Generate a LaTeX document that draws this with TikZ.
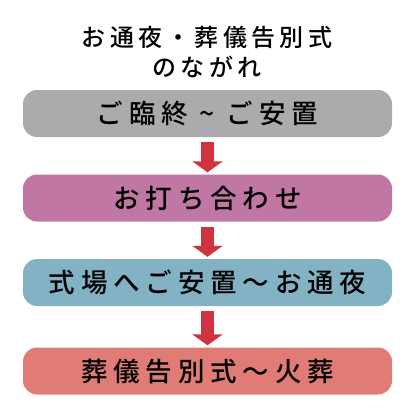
\documentclass[tikz,border=0pt]{standalone}
\usepackage{fontspec}
\newfontfamily\jp[LetterSpace=22, UprightFont={* Medium}]{Noto Sans CJK JP}
\newfontfamily\jptitle[LetterSpace=18, UprightFont={* Medium}]{Noto Sans CJK JP}
\usetikzlibrary{arrows.meta}
\definecolor{stepgray}{RGB}{171,171,171}
\definecolor{steppink}{RGB}{193,119,163}
\definecolor{stepblue}{RGB}{130,178,196}
\definecolor{stepsalmon}{RGB}{224,124,117}
\definecolor{flowred}{RGB}{207,51,64}
\begin{document}
\begin{tikzpicture}[
  x=1pt, y=-1pt,
  box/.style={rounded corners=14pt, minimum width=369pt, minimum height=47pt, inner sep=0pt, font=\jp\fontsize{26.5}{30}\selectfont, text=black},
  flow/.style={draw=flowred, line width=13pt, -{Triangle[width=30pt,length=11pt]}, shorten <=5pt, shorten >=2pt}
]
  \useasboundingbox (0,0) rectangle (412,408);

  % Title
  \node[align=center, font=\jptitle\fontsize{24}{30}\selectfont] (title) at (207,52) {お通夜・葬儀告別式\\のながれ};

  % Steps
  \node[box, fill=stepgray] (rinju) at (207.5,113.5) {ご臨終 \textasciitilde{} ご安置};
  \node[box, fill=steppink] (uchiawase) at (207.5,198) {お打ち合わせ};
  \node[box, fill=stepblue] (tsuya) at (207.5,282.5) {式場へご安置～お通夜};
  \node[box, fill=stepsalmon] (kaso) at (207.5,371) {葬儀告別式～火葬};

  % Arrows between steps
  \draw[flow] (rinju.south) -- (uchiawase.north);
  \draw[flow] (uchiawase.south) -- (tsuya.north);
  \draw[flow] (tsuya.south) -- (kaso.north);
\end{tikzpicture}
\end{document}
